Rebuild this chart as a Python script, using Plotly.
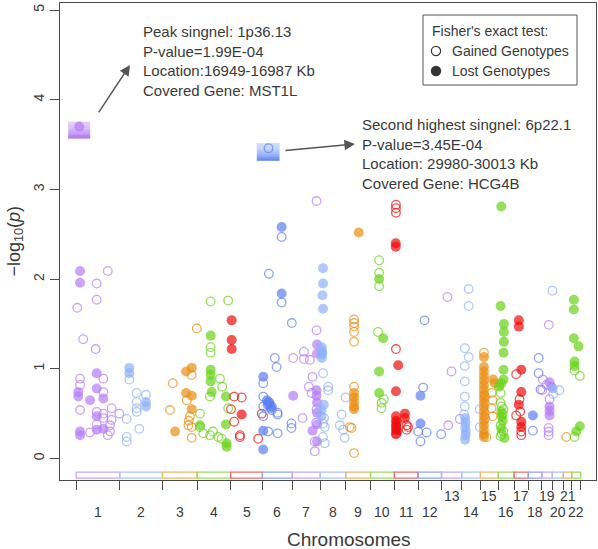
import plotly.graph_objects as go

# ---------------- data ----------------
chrom_labels = [str(i) for i in range(1, 23)]
chrom_len_mb = [249, 243, 198, 191, 181, 171, 159, 146, 141, 136, 135, 134,
                115, 107, 102, 90, 81, 78, 59, 63, 48, 51]

# (position within chromosome in Mb, -log10(p), lost genotype flag)
chr1 = [(17,3.70,1),(22,2.09,1),(22,1.96,1),(180,2.09,0),(117,1.95,0),(6,1.68,0),(117,1.77,0),(40,1.33,0),(111,1.22,0),(117,0.95,1),(22,0.89,0),(155,0.89,0),(22,0.82,0),(12,0.74,1),(12,0.69,1),(117,0.78,1),(79,0.65,1),(155,0.67,1),(155,0.74,0),(22,0.54,0),(202,0.56,0),(117,0.52,0),(155,0.50,0),(246,0.50,0),(117,0.47,1),(202,0.43,0),(193,0.37,0),(22,0.30,1),(22,0.26,1),(117,0.32,1),(155,0.33,1),(79,0.29,0),(180,0.26,0),(193,0.30,0),(117,0.38,0),(155,0.45,0)]
chr2 = [(54,1.01,1),(54,0.95,1),(54,0.88,0),(96,0.73,0),(149,0.71,0),(149,0.63,1),(149,0.58,1),(96,0.63,0),(96,0.56,0),(96,0.52,0),(39,0.44,0),(111,0.33,0),(39,0.24,0),(39,0.19,0)]
chr3 = [(196,1.45,0),(59,0.84,0),(135,0.97,1),(167,1.01,1),(167,0.93,0),(135,0.73,1),(167,0.70,1),(139,0.65,0),(43,0.54,0),(167,0.55,1),(157,0.47,0),(148,0.37,0),(72,0.30,1),(167,0.23,0),(167,0.35,0),(150,0.42,0)]
chr4 = [(77,1.75,0),(177,1.76,0),(77,1.37,1),(77,1.24,0),(77,1.18,0),(77,0.99,1),(77,0.93,1),(77,0.86,1),(83,0.74,1),(130,0.89,0),(143,0.80,0),(73,0.69,0),(164,0.69,1),(177,0.56,0),(164,0.38,1),(16,0.50,0),(16,0.37,1),(35,0.28,0),(73,0.26,0),(120,0.24,0),(140,0.22,0),(168,0.17,1),(168,0.13,1),(16,0.35,0),(90,0.30,0)]
chr5 = [(6,1.54,1),(6,1.32,1),(6,1.22,1),(20,0.69,0),(63,0.68,0),(2,0.55,0),(63,0.49,1),(20,0.41,0),(53,0.24,0),(53,0.26,0),(157,0.22,0),(178,0.50,0)]
chr6 = [(35,3.46,0),(110,2.58,1),(110,2.47,0),(37,2.06,0),(110,1.84,1),(110,1.74,0),(71,1.12,0),(81,1.02,0),(5,0.91,1),(5,0.84,0),(5,0.69,0),(5,0.58,0),(5,0.47,0),(26,0.65,1),(30,0.60,1),(40,0.62,1),(54,0.58,1),(48,0.56,1),(87,0.51,0),(87,0.49,0),(5,0.31,1),(33,0.30,0),(87,0.28,0),(5,0.10,1),(168,1.51,0),(166,0.39,0),(166,0.34,0),(35,0.63,0),(54,0.54,0)]
chr7 = [(5,1.12,0),(66,1.19,0),(66,1.11,0),(100,1.10,0),(115,0.91,0),(5,0.70,1),(94,0.80,0),(110,0.73,0),(58,0.45,0),(115,0.31,1),(138,2.87,0),(138,1.43,0),(141,1.27,1),(141,1.17,1),(128,0.08,0),(141,0.19,1),(138,0.76,1),(138,0.70,1),(141,0.62,1),(138,0.55,0),(141,0.51,1),(128,0.19,0),(141,0.38,1),(136,0.40,0)]
chr8 = [(16,2.12,1),(16,1.95,1),(13,1.82,1),(16,1.67,1),(9,1.24,1),(9,1.20,1),(9,1.16,1),(9,1.12,1),(12,1.18,1),(16,0.95,0),(45,0.80,0),(45,0.76,0),(7,0.54,1),(7,0.47,1),(16,0.39,0),(26,0.35,0),(16,0.24,0),(26,0.17,0),(145,0.68,0),(122,0.49,0),(112,0.37,0),(131,0.32,0),(140,0.23,0),(20,0.60,1),(22,0.45,0)]
chr9 = [(74,2.52,1),(47,1.55,0),(47,1.51,0),(47,1.47,0),(47,1.41,0),(47,1.30,0),(47,0.80,0),(47,0.73,1),(47,0.68,1),(47,0.63,1),(47,0.58,1),(47,0.55,1),(23,0.35,0),(33,0.34,0),(47,0.06,0)]
chr10 = [(49,2.21,0),(49,2.07,0),(49,1.92,0),(49,2.00,1),(43,1.41,0),(72,1.34,1),(49,0.97,1),(49,0.73,1),(76,0.66,0),(63,0.62,0),(63,0.56,0)]
chr11 = [(9,2.83,0),(9,2.79,0),(9,2.74,0),(8,2.40,1),(8,2.36,1),(9,1.22,0),(22,1.04,1),(9,0.75,1),(9,0.47,1),(9,0.42,1),(9,0.37,1),(9,0.32,1),(9,0.27,1),(60,0.50,1),(60,0.45,1),(70,0.37,0),(79,0.35,0),(70,0.32,0),(12,0.35,0),(12,0.28,0),(14,0.40,1),(16,0.31,1)]
chr12 = [(37,1.54,0),(29,0.79,0),(14,0.70,1),(14,0.39,1),(1,0.30,0),(49,0.29,0),(14,0.19,0),(132,0.27,0)]
chr13 = [(34,1.80,0),(57,0.97,0),(38,0.37,0),(104,0.44,0)]
chr14 = [(40,1.89,0),(40,1.70,0),(18,1.23,0),(40,1.13,0),(18,1.03,0),(18,0.86,0),(18,0.69,0),(18,0.58,0),(20,0.45,1),(22,0.40,1),(20,0.35,1),(24,0.30,1),(22,0.26,1),(20,0.21,1),(103,0.55,0),(103,0.35,0),(14,0.49,0)]
chr15 = [(20,1.18,0),(20,1.13,1),(20,1.02,1),(20,0.97,1),(20,0.92,1),(20,0.87,1),(20,0.82,1),(20,0.77,1),(20,0.72,1),(20,0.67,1),(20,0.62,1),(20,0.57,1),(20,0.52,1),(20,0.47,1),(20,0.42,1),(20,0.37,1),(20,0.32,1),(20,0.27,1),(20,0.24,1),(72,0.88,1),(82,0.84,1),(64,0.73,0),(70,0.65,0),(64,0.56,0),(70,0.47,0),(34,0.24,0),(25,0.70,0),(28,0.45,0)]
chr16 = [(17,2.81,1),(13,1.70,1),(32,1.50,1),(32,1.41,1),(32,1.30,1),(30,1.18,1),(30,0.99,1),(30,0.88,1),(13,0.73,0),(17,0.84,1),(5,0.80,1),(13,0.62,0),(20,0.58,0),(17,0.52,1),(20,0.47,1),(25,0.42,1),(13,0.37,0),(17,0.33,1),(30,0.30,0),(20,0.27,0),(35,0.23,1),(13,0.25,0),(25,0.50,0),(30,0.55,0)]
chr17 = [(27,1.54,1),(27,1.47,1),(41,0.99,1),(12,0.94,0),(41,0.74,1),(31,0.66,0),(27,0.60,1),(12,0.48,0),(41,0.41,1),(41,0.35,1),(41,0.30,0),(41,0.26,0),(35,0.52,0)]
chr18 = [(59,1.12,0),(59,0.95,0),(26,0.48,1),(26,0.31,0),(70,0.77,0)]
chr19 = [(39,1.49,0),(5,0.88,0),(25,0.82,0),(1,0.76,0),(43,0.85,1),(53,0.80,1),(43,0.66,0),(43,0.58,1),(43,0.53,1),(43,0.48,1),(38,0.34,0),(38,0.30,0),(38,0.26,0)]
chr20 = [(1,1.87,0),(3,0.78,1),(41,0.76,0),(5,0.72,0)]
chr21 = [(17,0.24,0)]
chr22 = [(12,1.77,1),(12,1.66,1),(12,1.34,1),(39,1.25,1),(16,1.08,1),(16,1.03,1),(16,0.98,0),(46,0.92,0),(26,0.30,1),(46,0.36,1),(16,0.24,0)]

all_chroms = [chr1, chr2, chr3, chr4, chr5, chr6, chr7, chr8, chr9, chr10, chr11,
              chr12, chr13, chr14, chr15, chr16, chr17, chr18, chr19, chr20, chr21, chr22]

peak1_text = ("Peak singnel: 1p36.13<br>P-value=1.99E-04<br>"
              "Location:16949-16987 Kb<br>Covered Gene: MST1L")
peak2_text = ("Second highest singnel: 6p22.1<br>P-value=3.45E-04<br>"
              "Location: 29980-30013 Kb<br>Covered Gene: HCG4B")
legend_title = "Fisher's exact test:"
legend_labels = ["Gained Genotypes", "Lost Genotypes"]

# ---------------- styling ----------------
FONT = "Liberation Sans, Arial, sans-serif"
TXT = "#3a3a3a"
AX = "#4a4a4a"
point_colors = ["#b57cf6", "#8eb0f8", "#e98f12", "#67d316", "#ee0b0b", "#5b7ff2"]
band_colors = ["#c9a5f8", "#aac3fa", "#f0b566", "#96e057", "#f26a6a", "#8aa3f6"]

starts = []
acc = 0
for L in chrom_len_mb:
    starts.append(acc)
    acc += L
genome_end = acc

xs, ys, cols, syms, sizes, lws = [], [], [], [], [], []
for ci, pts in enumerate(all_chroms):
    for pos, lp, lost in pts:
        xs.append(starts[ci] + pos)
        ys.append(lp)
        cols.append(point_colors[ci % 6])
        if lost:
            syms.append("circle"); sizes.append(10); lws.append(0)
        else:
            syms.append("circle-open"); sizes.append(8.6); lws.append(1.3)

fig = go.Figure()

x_range = [-92.4, 2965.3]
y_range = [-0.24, 5.078]

shapes = []
for ci, L in enumerate(chrom_len_mb):
    shapes.append(dict(type="rect", xref="x", yref="y", x0=starts[ci], x1=starts[ci] + L,
                       y0=-0.218, y1=-0.152, line=dict(color=band_colors[ci % 6], width=1.3),
                       fillcolor="rgba(255,255,255,0)", layer="below"))

def grad_box(cx, cy, xl, xr, yd, yu, c_top, c_bot, n=10):
    out = []
    h = (yu - yd) / n
    for i in range(n):
        t = i / (n - 1)
        t = t ** 1.6
        r = int(c_top[0] + (c_bot[0] - c_top[0]) * t)
        g = int(c_top[1] + (c_bot[1] - c_top[1]) * t)
        b = int(c_top[2] + (c_bot[2] - c_top[2]) * t)
        y1 = yu - i * h
        y0 = y1 - h - 0.3
        out.append(dict(type="rect", xref="x", yref="y", xsizemode="pixel", ysizemode="pixel",
                        xanchor=cx, yanchor=cy, x0=xl, x1=xr, y0=y0, y1=y1,
                        line=dict(width=0), fillcolor=f"rgb({r},{g},{b})", layer="below"))
    return out

p1 = max(chr1, key=lambda p: p[1])
p2 = max(chr6, key=lambda p: p[1])
p1x, p1y = starts[0] + p1[0], p1[1]
p2x, p2y = starts[5] + p2[0], p2[1]
shapes += grad_box(p1x, p1y, -11, 11, -11.7, 4.9, (228, 204, 252), (176, 120, 244))
shapes += grad_box(p2x, p2y, -11.7, 11, -12.4, 5.0, (206, 220, 252), (104, 140, 242))

fig.add_trace(go.Scatter(
    x=xs, y=ys, mode="markers", showlegend=False, hoverinfo="skip",
    marker=dict(symbol=syms, color=cols, size=sizes, line=dict(width=lws, color=cols)),
))

annotations = []
annotations.append(dict(x=307, y=4.387, xref="x", yref="y", ax=-32.3, ay=49,
                        axref="pixel", ayref="pixel", text="", showarrow=True,
                        arrowhead=2, arrowsize=1.5, arrowwidth=1.4, arrowcolor="#555555",
                        standoff=0, startstandoff=0))
annotations.append(dict(x=1590, y=3.506, xref="x", yref="y", ax=-71, ay=6.7,
                        axref="pixel", ayref="pixel", text="", showarrow=True,
                        arrowhead=2, arrowsize=1.5, arrowwidth=1.4, arrowcolor="#555555",
                        standoff=0, startstandoff=0))
annotations.append(dict(x=370, y=4.426, xref="x", yref="y", text=peak1_text, showarrow=False,
                        xanchor="left", yanchor="middle", align="left",
                        font=dict(family=FONT, size=15, color=TXT)))
annotations.append(dict(x=1620, y=3.40, xref="x", yref="y", text=peak2_text, showarrow=False,
                        xanchor="left", yanchor="middle", align="left",
                        font=dict(family=FONT, size=15, color=TXT)))

for ci, lab in enumerate(chrom_labels):
    mid = starts[ci] + chrom_len_mb[ci] / 2
    upper = (ci + 1) in (13, 15, 17, 19, 21)
    annotations.append(dict(x=mid, y=0, xref="x", yref="paper", text=lab, showarrow=False,
                            xanchor="center", yanchor="middle",
                            yshift=-15.5 if upper else -32,
                            font=dict(family=FONT, size=14, color=TXT)))

annotations.append(dict(x=0.539, y=0, xref="paper", yref="paper", text="Chromosomes",
                        showarrow=False, xanchor="center", yanchor="middle", yshift=-59,
                        font=dict(family=FONT, size=19, color=TXT)))
annotations.append(dict(x=0, y=0.5, xref="paper", yref="paper",
                        text="\u2212log<sub>10</sub>(<i>p</i>)", textangle=-90,
                        showarrow=False, xanchor="center", yanchor="middle", xshift=-45,
                        font=dict(family=FONT, size=18, color=TXT)))

W, H = 536, 477
def px_x(px):
    return (px - 60) / W
def px_y(py):
    return (480 - py) / H

shapes.append(dict(type="rect", xref="paper", yref="paper",
                   x0=px_x(423), x1=px_x(577), y0=px_y(85), y1=px_y(15),
                   line=dict(color="#555555", width=1), fillcolor="white"))
annotations.append(dict(x=px_x(430), y=px_y(31), xref="paper", yref="paper", text=legend_title,
                        showarrow=False, xanchor="left", yanchor="middle",
                        font=dict(family=FONT, size=14, color=TXT)))
for i, (lab, yy) in enumerate(zip(legend_labels, [51, 71])):
    shapes.append(dict(type="circle", xref="paper", yref="paper", xsizemode="pixel",
                       ysizemode="pixel", xanchor=px_x(436), yanchor=px_y(yy),
                       x0=-4.6, x1=4.6, y0=-4.6, y1=4.6,
                       line=dict(color="#333333", width=1.2),
                       fillcolor="#333333" if i == 1 else "white"))
    annotations.append(dict(x=px_x(449.5), y=px_y(yy), xref="paper", yref="paper", text=lab,
                            showarrow=False, xanchor="left", yanchor="middle",
                            font=dict(family=FONT, size=14, color=TXT)))

boundaries = starts + [genome_end]

fig.update_layout(
    width=598, height=549,
    margin=dict(l=60, r=2, t=3, b=69),
    paper_bgcolor="white", plot_bgcolor="white",
    shapes=shapes, annotations=annotations,
    font=dict(family=FONT, color=TXT),
    xaxis=dict(range=x_range, showgrid=False, zeroline=False, showline=True, mirror=True,
               linecolor=AX, linewidth=1, ticks="outside", ticklen=9, tickcolor=AX,
               tickwidth=1, tickvals=boundaries, showticklabels=False),
    yaxis=dict(range=y_range, showgrid=False, zeroline=False, showline=True, mirror=True,
               linecolor=AX, linewidth=1, ticks="outside", ticklen=9, tickcolor=AX,
               tickwidth=1, tickvals=[0, 1, 2, 3, 4, 5], tickangle=-90,
               tickfont=dict(family=FONT, size=14, color=TXT)),
)

fig.write_html("out.html",
               config={"displayModeBar": False},
               post_script="document.body.style.margin='0px';document.body.style.overflow='hidden';")
